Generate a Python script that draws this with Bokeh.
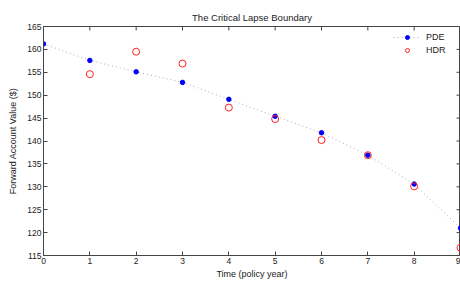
import math
from bokeh.plotting import figure
from bokeh.models import Legend, LegendItem, Range1d, FixedTicker
from bokeh.embed import file_html
from bokeh.resources import INLINE

years = [0, 1, 2, 3, 4, 5, 6, 7, 8, 9]
pde = [161.2, 157.6, 155.1, 152.8, 149.1, 145.4, 141.8, 136.9, 130.6, 121.0]
hdr_years = [1, 2, 3, 4, 5, 6, 7, 8, 9]
hdr = [154.6, 159.5, 156.9, 147.3, 144.8, 140.2, 136.9, 130.1, 116.7]
x_ticks = [0, 1, 2, 3, 4, 5, 6, 7, 8, 9]
y_ticks = [115, 120, 125, 130, 135, 140, 145, 150, 155, 160, 165]
x_min, x_max = 0, 9
y_min, y_max = 115, 165

FONT = "Liberation Sans"
AX = "#444444"

p = figure(width=460, height=281, output_backend="svg", toolbar_location=None,
           x_range=Range1d(x_min, x_max), y_range=Range1d(y_min, y_max),
           title="The Critical Lapse Boundary",
           min_border_left=43, min_border_right=0, min_border_top=26, min_border_bottom=25)
p.title.align = "center"
p.title.text_font = FONT
p.title.text_font_size = "9.5px"
p.title.text_font_style = "normal"
p.title.text_color = "#222222"
p.title.standoff = 8
p.xgrid.visible = False
p.ygrid.visible = False
p.outline_line_color = AX
p.background_fill_color = "white"
p.border_fill_color = "white"

for ax in (p.xaxis[0], p.yaxis[0]):
    ax.major_label_text_font = FONT
    ax.major_label_text_font_size = "8.5px"
    ax.major_label_text_color = "#222222"
    ax.axis_label_text_font = FONT
    ax.axis_label_text_font_size = "9px"
    ax.axis_label_text_font_style = "normal"
    ax.axis_label_text_color = "#222222"
    ax.axis_line_color = AX
    ax.major_tick_line_color = AX
    ax.major_tick_in = 4
    ax.major_tick_out = 0
    ax.minor_tick_line_color = None
    ax.major_label_standoff = 2
    ax.axis_label_standoff = 2
p.xaxis[0].ticker = FixedTicker(ticks=x_ticks)
p.yaxis[0].ticker = FixedTicker(ticks=y_ticks)
p.xaxis[0].axis_label = "Time (policy year)"
p.yaxis[0].axis_label = "Forward Account Value ($)"
p.yaxis[0].axis_label_standoff = 6

# inward ticks on top and right edges (half of each dash is clipped by the frame)
p.scatter(x_ticks, [y_max] * len(x_ticks), marker="dash", size=8, angle=math.pi / 2,
          line_color=AX, line_width=1)
p.scatter([x_max] * len(y_ticks), y_ticks, marker="dash", size=8,
          line_color=AX, line_width=1)

ln = p.line(years, pde, line_color="#a8a8b8", line_dash="1 3", line_width=1)
sc = p.scatter(years, pde, size=4.5, fill_color="#0000ff", line_color="#0000ff")
hc = p.scatter(hdr_years, hdr, size=7, fill_color=None, line_color="#ff2020", line_width=1)

legend = Legend(items=[LegendItem(label="PDE", renderers=[ln, sc]),
                       LegendItem(label="HDR", renderers=[hc])],
                location=(350, 200), border_line_color=None, background_fill_alpha=0,
                label_text_font=FONT, label_text_font_size="9px", label_text_color="#222222",
                glyph_width=28, glyph_height=10, spacing=3, padding=2, margin=0,
                label_standoff=5, label_height=10)
p.add_layout(legend)

open("out.html", "w").write(file_html(p, INLINE))
